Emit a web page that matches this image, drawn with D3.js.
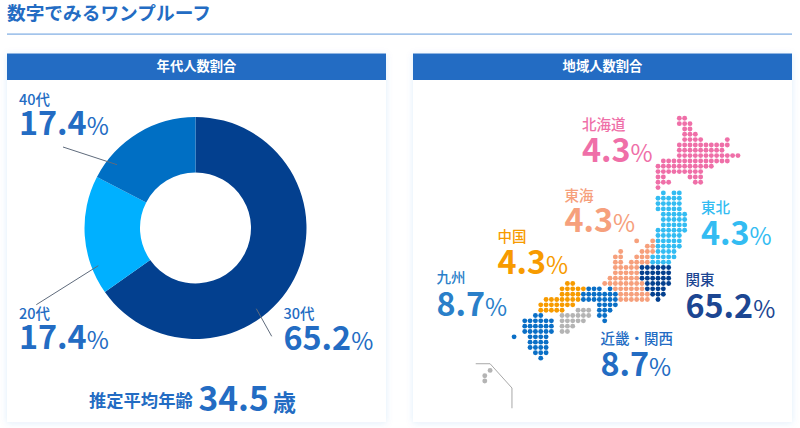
<!DOCTYPE html>
<html lang="ja"><head><meta charset="utf-8">
<script src="https://cdn.jsdelivr.net/npm/d3@7"></script>
<style>html,body{margin:0;padding:0;background:#fff}svg{display:block}text{font-family:"Noto Sans CJK JP","Noto Sans",sans-serif}</style>
</head><body><svg id="c" width="800" height="428"></svg>
<script>
const titleText = "数字でみるワンプルーフ";
const panelTitles = ["年代人数割合", "地域人数割合"];
const ageLabels = ["30代", "20代", "40代"];
const ageValues = [65.2, 17.4, 17.4];
const regionNames = ["北海道", "東北", "関東", "東海", "近畿・関西", "中国", "九州"];
const regionValues = [4.3, 4.3, 65.2, 4.3, 8.7, 4.3, 8.7];
const avgAgeLabel = "推定平均年齢";
const avgAge = "34.5";
const avgAgeUnit = "歳";

// dot-map cells: [grid row, first column, last column]
const hokkaidoCells = [[0,4,5],[1,4,6],[2,5,6],[3,5,7],[4,5,8],[4,13,13],[5,4,13],[6,4,12],[7,4,15],[8,1,13],[9,0,10],[10,0,8],[11,0,1],[11,6,8],[12,0,2],[12,7,8],[13,0,0]];
const tohokuCells = [[14,1,1],[14,3,4],[15,0,4],[16,0,4],[17,0,4],[18,1,5],[19,1,5],[20,1,5],[21,0,5],[22,0,4],[23,0,4],[24,0,4],[25,0,3],[26,-1,3],[27,-1,2]];
const tokaiCells = [[23,-4,-4],[23,-1,-1],[24,-2,-1],[25,-7,-7],[25,-3,-1],[26,-8,-7],[26,-4,-2],[27,-8,-7],[27,-5,-2],[28,-8,-4],[29,-8,-4],[30,-9,-4],[31,-10,-3],[32,-8,-3],[33,-7,-2],[34,-7,-2]];
const kantoCells = [[28,-3,2],[29,-3,2],[30,-3,2],[31,-2,2],[32,-2,1],[33,-1,1],[34,0,0]];
const kansaiCells = [[32,-13,-11],[32,-9,-9],[33,-14,-8],[34,-14,-8],[35,-11,-8],[36,-11,-9],[37,-11,-10],[38,-10,-10]];
const chugokuCells = [[31,-17,-16],[32,-18,-14],[33,-18,-15],[34,-21,-15],[35,-22,-16],[36,-22,-18]];
const shikokuCells = [[36,-15,-13],[37,-18,-13],[38,-18,-14],[39,-18,-16],[40,-18,-17]];
const kyushuCells = [[37,-23,-22],[38,-25,-20],[39,-25,-20],[40,-25,-20],[41,-27,-27],[41,-24,-21],[42,-24,-21],[43,-24,-21],[44,-23,-21],[45,-22,-22]];
const okinawaDots = [[47.3,-31.5],[48.3,-32.5],[49.3,-32.5]];
const okinawaFrame = [[46.05,-34.2],[46.05,-31.5],[50.6,-27.4],[54.4,-27.4]];

const BLUE = "#236cc3";
const svg = d3.select("#c");
const defs = svg.append("defs");
const f = defs.append("filter").attr("id","sh").attr("x","-5%").attr("y","-5%").attr("width","110%").attr("height","110%");
f.append("feDropShadow").attr("dx",0).attr("dy",1).attr("stdDeviation",3.5).attr("flood-color","#3b78d8").attr("flood-opacity",0.13);

svg.append("text").text(titleText).attr("x",7).attr("y",20).attr("font-size",18.7).attr("font-weight",700).attr("fill",BLUE);
svg.append("rect").attr("x",7).attr("y",33.5).attr("width",785).attr("height",1.2).attr("fill","#7dabe3");

[[7,panelTitles[0]],[413,panelTitles[1]]].forEach(([x,t])=>{
  svg.append("rect").attr("x",x).attr("y",53.5).attr("width",379).attr("height",368.5).attr("fill","#fff").attr("filter","url(#sh)");
  svg.append("rect").attr("x",x).attr("y",53.5).attr("width",379).attr("height",26.5).attr("fill",BLUE);
  svg.append("text").text(t).attr("x",x+189.5).attr("y",71).attr("text-anchor","middle").attr("font-size",13.3).attr("font-weight",700).attr("fill","#fff");
});

// donut
const ageColors = d3.scaleOrdinal().domain(ageLabels).range(["#03408f","#00b0ff","#006fc4"]);
const pie = d3.pie().sort(null)(ageValues);
const arc = d3.arc().innerRadius(55.5).outerRadius(111);
const donut = svg.append("g").attr("transform","translate(195.5,228)");
donut.selectAll("path").data(pie).join("path").attr("d",arc).attr("fill",(d,i)=>ageColors(ageLabels[i]));

// leader lines
const leaderColor = "#5f6b7c";
[[63,147,117,164.7],[36.3,304.7,98.3,265.7],[256.3,308.7,271.7,336.3]].forEach(l=>{
  svg.append("line").attr("x1",l[0]).attr("y1",l[1]).attr("x2",l[2]).attr("y2",l[3]).attr("stroke",leaderColor).attr("stroke-width",1);
});

function valueLabel(x, name, val, color, yName, yVal){
  svg.append("text").text(name).attr("x",x).attr("y",yName).attr("font-size",14.5).attr("font-weight",500).attr("fill",color);
  const t = svg.append("text").attr("x",x).attr("y",yVal).attr("fill",color);
  t.append("tspan").text(val.toFixed(1)).attr("font-size",32.3).attr("font-weight",700);
  t.append("tspan").text("%").attr("font-size",24).attr("font-weight",400);
}
valueLabel(19, ageLabels[2], ageValues[2], BLUE, 105, 135);
valueLabel(19, ageLabels[1], ageValues[1], BLUE, 319, 349);
valueLabel(283.5, ageLabels[0], ageValues[0], BLUE, 319, 350);

svg.append("text").text(avgAgeLabel).attr("x",89).attr("y",407).attr("font-size",17.3).attr("font-weight",700).attr("fill",BLUE);
svg.append("text").text(avgAge).attr("x",198.5).attr("y",410.5).attr("font-size",33.5).attr("font-weight",700).attr("fill",BLUE);
svg.append("text").text(avgAgeUnit).attr("x",273).attr("y",411).attr("font-size",23).attr("font-weight",700).attr("fill",BLUE);

// dot map
const colX = d3.scaleLinear().domain([0,10]).range([658,711.3]);
const rowY = d3.scaleLinear().domain([0,10]).range([118.3,171.6]);
const layers = [
  [hokkaidoCells,"#ef6fa8"],[tohokuCells,"#33bcf2"],[tokaiCells,"#f6a07c"],[kantoCells,"#03408f"],
  [kansaiCells,"#0a6fc6"],[chugokuCells,"#f79b00"],[shikokuCells,"#b4b4b4"],[kyushuCells,"#0a6fc6"]
];
const map = svg.append("g");
layers.forEach(([cells,color])=>{
  const dots = cells.flatMap(([r,a,b])=>d3.range(a,b+1).map(c=>[r,c]));
  map.append("g").selectAll("circle").data(dots).join("circle")
    .attr("cx",d=>colX(d[1])).attr("cy",d=>rowY(d[0])).attr("r",2.45).attr("fill",color);
});
map.append("g").selectAll("circle").data(okinawaDots).join("circle")
  .attr("cx",d=>colX(d[1])).attr("cy",d=>rowY(d[0])).attr("r",2.45).attr("fill","#b4b4b4");
map.append("path").attr("fill","none").attr("stroke","#a8a8a8").attr("stroke-width",1)
  .attr("d",d3.line().x(d=>colX(d[1])).y(d=>rowY(d[0]))(okinawaFrame));

valueLabel(582, regionNames[0], regionValues[0], "#ef6fa8", 130, 161.5);
valueLabel(701, regionNames[1], regionValues[1], "#33bcf2", 213, 245);
valueLabel(685.5, regionNames[2], regionValues[2], "#1c4692", 285, 318);
valueLabel(564.5, regionNames[3], regionValues[3], "#f6a07c", 200.5, 231.5);
valueLabel(600.5, regionNames[4], regionValues[4], "#236cc3", 344, 376);
valueLabel(497.5, regionNames[5], regionValues[5], "#f79b00", 242, 274);
valueLabel(436.5, regionNames[6], regionValues[6], "#2a7fc9", 283, 316);
</script></body></html>
